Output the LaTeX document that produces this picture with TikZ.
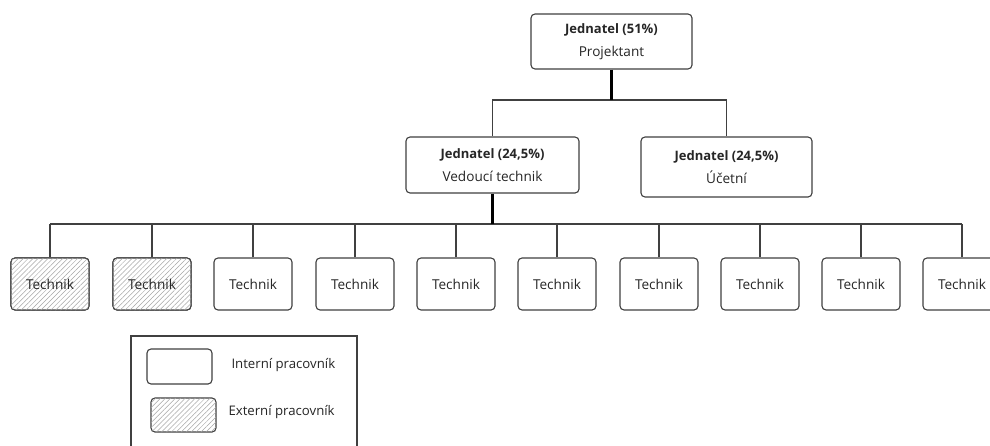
\documentclass[tikz,border=0pt]{standalone}
\usepackage{fontspec}
\setmainfont{Open Sans}
\usetikzlibrary{patterns.meta}
\definecolor{linec}{HTML}{404040}
\definecolor{textc}{HTML}{262626}
\newcommand{\headline}[1]{{\fontsize{13}{22.5}\selectfont\bfseries #1}}
\newcommand{\roleline}[1]{{\fontsize{13.6}{22.5}\selectfont #1}}
\tikzset{
  box/.style={draw=linec, line width=1.1pt, rounded corners=4pt, fill=white,
    align=center, text=textc, inner sep=0pt},
  headbox/.style={box, font=\fontsize{13.6}{22.5}\selectfont},
  techbox/.style={box, minimum width=78pt, minimum height=52pt,
    font=\fontsize{13.6}{15}\selectfont},
  hatched/.style={postaction={pattern={Lines[angle=45,distance=3.5pt,line width=0.5pt]},
    pattern color=gray!70}},
  link/.style={draw=linec, line width=1.1pt},
  trunk/.style={draw=black, line width=2.2pt},
  legtext/.style={anchor=west, text=textc, font=\fontsize{13.2}{15}\selectfont},
}
\begin{document}
\begin{tikzpicture}[x=1pt, y=-1pt]
  \clip (0,0) rectangle (990,445);
  \fill[white] (0,0) rectangle (990,445);

  % bus levels
  \coordinate (bus1) at (0,100);
  \coordinate (bus2) at (0,224);

  % management
  \node[headbox, minimum width=161pt, minimum height=55pt] (p) at (611.5,41.5)
    {\headline{Jednatel (51\%)}\\\roleline{Projektant}};
  \node[headbox, minimum width=173pt, minimum height=56pt] (v) at (492.5,165)
    {\headline{Jednatel (24,5\%)}\\\roleline{Vedoucí technik}};
  \node[headbox, minimum width=171pt, minimum height=60pt] (u) at (726.5,167)
    {\headline{Jednatel (24,5\%)}\\\roleline{Účetní}};

  % technicians
  \foreach \i/\x in {1/50,2/152,3/253,4/355,5/456,6/557,7/659,8/760,9/861,10/962}
    \node[techbox] (t\i) at (\x,284) {Technik};
  \node[techbox, hatched] at (t1) {Technik};
  \node[techbox, hatched] at (t2) {Technik};

  % connectors, upper level
  \draw[link] (v.north) -- (v.north |- bus1) -- (u.north |- bus1) -- (u.north);
  \draw[trunk] (p.south) -- (p.south |- bus1);

  % connectors, lower level
  \draw[link] (t1.north |- bus2) -- (t10.north |- bus2);
  \foreach \i in {1,...,10}
    \draw[link] (t\i.north) -- (t\i.north |- bus2);
  \draw[trunk] (v.south) -- (v.south |- bus2);

  % legend
  \draw[linec, line width=1.1pt] (131,336) rectangle (357,470);
  \node[box, minimum width=65pt, minimum height=35pt] (li) at (179.5,366.5) {};
  \node[box, hatched, minimum width=65pt, minimum height=34pt] (le) at (183.5,415) {};
  \node[legtext] (lit) at (228,365) {Interní pracovník};
  \node[legtext] (let) at (225,412) {Externí pracovník};
\end{tikzpicture}
\end{document}
